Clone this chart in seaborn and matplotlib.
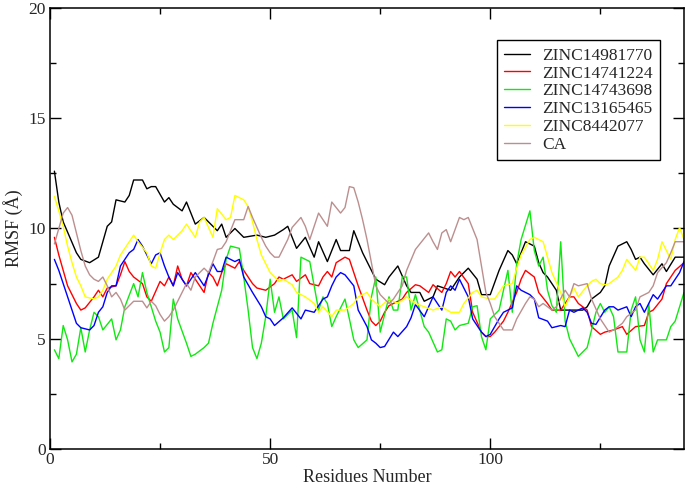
import matplotlib
matplotlib.use("Agg")
import matplotlib.pyplot as plt
import pandas as pd
import seaborn as sns
from matplotlib.ticker import MultipleLocator

# RMSF per residue
res_black = [1, 2, 3, 6, 7, 9, 11, 13, 14, 15, 17, 18, 19, 21, 22, 23, 24, 26, 27, 28, 30, 31, 33, 35, 36, 38,
             39, 40, 42, 44, 47, 49, 51, 53, 54, 56, 58, 60, 61, 63, 65, 66, 68, 69, 71, 74, 76, 77, 79, 81, 82,
             84, 85, 87, 88, 91, 93, 95, 97, 98, 100, 102, 104, 105, 106, 108, 110, 111, 112, 113, 115, 116, 121,
             122, 123, 125, 126, 127, 129, 131, 132, 133, 134, 135, 137, 139, 140, 142, 144]
rmsf_black = [12.6, 11.2, 10.3, 8.9, 8.6, 8.45, 8.7, 10.1, 10.3, 11.3, 11.2, 11.5, 12.2, 12.2, 11.8, 11.9, 11.9,
              11.2, 11.4, 11.1, 10.8, 11.2, 10.2, 10.5, 10.3, 9.9, 10.2, 9.6, 10.0, 9.6, 9.7, 9.6, 9.7, 9.95,
              10.1, 9.1, 9.6, 8.7, 9.4, 8.5, 9.5, 9.0, 9.0, 9.9, 8.9, 7.7, 7.45, 7.8, 8.3, 7.4, 7.1, 7.1, 6.7,
              6.9, 7.4, 7.2, 7.8, 8.2, 7.7, 7.0, 7.0, 8.1, 9.0, 8.8, 8.4, 9.4, 9.2, 8.45, 8.0, 7.8, 7.2, 6.3,
              6.3, 6.45, 6.8, 7.1, 7.4, 8.3, 9.2, 9.4, 9.05, 8.6, 8.7, 8.4, 7.9, 8.4, 8.05, 8.7, 8.7]

res_red = [1, 2, 3, 4, 6, 7, 8, 10, 11, 12, 13, 15, 16, 17, 18, 19, 21, 22, 23, 25, 26, 27, 28, 29, 30, 31, 32,
           34, 35, 36, 37, 38, 39, 40, 42, 43, 44, 46, 47, 49, 51, 52, 53, 55, 56, 58, 59, 61, 62, 63, 64, 65,
           67, 68, 70, 72, 73, 74, 75, 76, 77, 78, 80, 81, 83, 84, 86, 87, 89, 90, 91, 92, 93, 95, 96, 98, 99,
           100, 101, 102, 103, 104, 106, 107, 108, 110, 111, 113, 114, 116, 118, 119, 120, 122, 123, 125, 126,
           128, 130, 131, 133, 135, 136, 137, 139, 140, 142, 144]
rmsf_red = [9.6, 8.8, 8.1, 7.4, 6.6, 6.3, 6.4, 6.9, 7.2, 6.9, 7.3, 7.4, 7.9, 8.5, 8.05, 7.8, 7.5, 6.9, 6.7, 7.6,
            7.4, 7.8, 7.4, 8.3, 7.7, 7.4, 8.0, 7.4, 7.1, 8.0, 7.8, 7.4, 8.0, 8.4, 8.2, 8.5, 8.1, 7.5, 7.3, 7.2,
            7.5, 7.8, 7.7, 7.9, 7.6, 7.9, 7.5, 7.4, 7.8, 8.05, 7.8, 8.45, 8.7, 8.6, 7.4, 6.3, 5.8, 5.6, 5.8,
            6.2, 6.5, 6.6, 6.8, 7.1, 7.45, 7.4, 7.1, 7.45, 7.1, 7.5, 8.05, 7.8, 8.05, 7.5, 6.2, 5.3, 5.1, 5.1,
            5.3, 5.55, 5.8, 6.2, 7.1, 7.7, 8.1, 7.8, 7.1, 6.6, 6.3, 6.3, 6.9, 6.9, 6.6, 6.3, 5.55, 5.2, 5.3,
            5.4, 5.55, 5.2, 5.55, 5.6, 6.2, 6.3, 6.8, 7.5, 8.1, 8.45]

res_green = [1, 2, 3, 4, 5, 6, 7, 8, 9, 10, 11, 12, 14, 15, 16, 17, 19, 20, 21, 22, 23, 24, 25, 26, 27, 28, 29,
             31, 32, 33, 35, 36, 37, 38, 39, 40, 41, 43, 44, 45, 46, 47, 48, 49, 50, 51, 52, 53, 55, 56, 57, 59,
             60, 61, 62, 63, 64, 65, 67, 68, 69, 70, 72, 73, 74, 75, 77, 78, 79, 80, 81, 82, 83, 85, 86, 88, 89,
             90, 91, 92, 93, 95, 96, 97, 98, 99, 100, 102, 103, 104, 105, 106, 107, 109, 110, 111, 112, 113, 114,
             115, 116, 117, 118, 120, 122, 123, 124, 125, 126, 127, 128, 129, 131, 132, 133, 134, 135, 136, 137,
             138, 140, 141, 142, 144]
rmsf_green = [4.5, 4.1, 5.6, 4.95, 3.95, 4.3, 5.5, 4.4, 5.4, 6.2, 6.0, 5.4, 5.9, 4.95, 5.4, 6.45, 7.5, 6.9, 8.0,
              7.1, 6.45, 5.8, 5.3, 4.4, 4.6, 6.8, 5.9, 4.8, 4.2, 4.3, 4.6, 4.8, 5.7, 6.45, 7.2, 8.6, 9.2, 9.1,
              7.8, 6.3, 4.6, 4.1, 4.8, 6.0, 7.7, 6.2, 6.9, 5.9, 6.3, 5.05, 8.7, 8.5, 7.4, 6.3, 6.9, 6.6, 5.55,
              6.0, 6.8, 5.9, 4.95, 4.6, 4.95, 6.9, 7.8, 5.3, 6.9, 6.3, 6.3, 7.8, 7.8, 6.3, 7.0, 5.55, 5.3, 4.4,
              4.5, 5.9, 5.8, 5.4, 5.6, 5.7, 6.45, 6.5, 5.1, 4.5, 5.9, 6.3, 7.2, 8.1, 6.2, 8.4, 9.5, 10.8, 9.0,
              8.3, 8.7, 7.2, 6.5, 6.2, 9.4, 5.8, 5.0, 4.2, 4.6, 5.4, 6.2, 6.6, 6.2, 6.45, 6.0, 4.4, 4.4, 6.3,
              6.9, 4.95, 4.4, 6.6, 4.4, 4.95, 4.95, 5.55, 5.8, 7.1]

res_blue = [1, 2, 3, 4, 5, 6, 7, 9, 10, 11, 12, 13, 14, 15, 16, 18, 19, 20, 21, 22, 23, 24, 25, 26, 27, 28, 29,
            31, 32, 33, 35, 37, 38, 39, 40, 42, 43, 44, 46, 48, 49, 50, 51, 53, 55, 57, 58, 60, 62, 63, 64, 65,
            66, 67, 69, 70, 72, 73, 74, 75, 76, 78, 79, 81, 82, 83, 85, 86, 87, 89, 90, 91, 92, 93, 95, 96, 98,
            99, 100, 101, 102, 103, 105, 106, 107, 109, 110, 111, 113, 114, 116, 117, 118, 119, 121, 122, 123,
            124, 126, 127, 128, 129, 131, 132, 133, 134, 135, 137, 138, 140, 141, 143, 144]
rmsf_blue = [8.6, 8.1, 7.5, 6.9, 6.3, 5.7, 5.5, 5.4, 5.6, 6.2, 6.45, 7.1, 7.4, 7.4, 8.3, 8.9, 9.05, 9.5, 9.2, 8.8,
             8.4, 8.8, 8.9, 8.3, 7.8, 7.4, 8.0, 7.4, 7.7, 8.0, 7.4, 8.4, 8.05, 8.05, 8.7, 8.5, 8.6, 7.8, 7.1,
             6.45, 6.0, 5.9, 5.6, 5.95, 6.4, 5.9, 6.3, 6.2, 6.8, 6.9, 7.4, 7.8, 8.0, 7.9, 7.4, 6.3, 5.55, 4.95,
             4.8, 4.6, 4.65, 5.3, 5.1, 5.55, 5.95, 6.55, 6.0, 6.45, 6.9, 6.3, 7.1, 7.4, 7.2, 7.7, 6.9, 5.9, 5.3,
             5.1, 5.2, 5.55, 5.9, 6.2, 6.4, 7.4, 7.2, 7.0, 6.8, 5.95, 5.8, 5.5, 5.6, 5.55, 6.3, 6.2, 6.4, 6.2,
             5.7, 5.65, 6.3, 6.45, 6.45, 6.3, 6.45, 6.0, 6.45, 6.6, 6.2, 7.0, 6.8, 7.4, 7.4, 8.0, 8.5]

res_yellow = [1, 2, 3, 4, 5, 6, 7, 8, 10, 11, 12, 13, 14, 15, 16, 18, 19, 20, 22, 23, 24, 25, 26, 27, 28, 30, 31,
              33, 34, 35, 37, 38, 40, 41, 42, 44, 45, 46, 47, 48, 50, 52, 53, 55, 56, 58, 60, 61, 62, 64, 65, 67,
              69, 70, 72, 73, 75, 77, 79, 81, 83, 85, 87, 89, 91, 93, 94, 96, 97, 98, 100, 101, 102, 103, 105,
              106, 107, 109, 110, 112, 113, 114, 116, 117, 118, 119, 120, 122, 123, 124, 125, 126, 127, 129, 130,
              131, 133, 134, 135, 137, 138, 139, 141, 142, 143, 144]
rmsf_yellow = [11.45, 10.8, 10.1, 9.2, 8.45, 7.8, 7.4, 6.9, 6.8, 6.9, 7.2, 7.7, 8.0, 8.3, 8.8, 9.4, 9.7, 9.4, 8.9,
               8.3, 8.2, 8.9, 9.5, 9.7, 9.5, 9.9, 10.2, 9.6, 10.3, 10.5, 9.6, 10.9, 10.4, 10.5, 11.5, 11.3, 11.0,
               10.3, 9.5, 8.8, 8.0, 7.6, 7.7, 7.45, 7.1, 6.9, 6.6, 6.2, 6.45, 6.0, 6.3, 6.3, 6.6, 6.9, 7.1, 6.8,
               6.45, 6.8, 6.6, 6.9, 6.6, 6.45, 6.3, 6.45, 6.2, 6.2, 6.6, 7.1, 7.2, 6.9, 6.8, 6.8, 7.1, 7.4, 7.5,
               8.2, 8.8, 9.5, 9.6, 9.4, 8.7, 8.0, 7.1, 6.45, 6.9, 7.3, 6.9, 7.4, 7.6, 7.7, 7.5, 7.45, 7.5, 7.8,
               8.1, 8.6, 8.1, 8.7, 8.7, 8.1, 8.6, 9.4, 8.6, 9.5, 10.05, 9.5]

res_ca = [1, 2, 3, 4, 5, 6, 7, 8, 9, 10, 11, 12, 13, 14, 15, 16, 17, 19, 21, 22, 23, 24, 25, 26, 27, 28, 30, 31,
          32, 33, 35, 36, 37, 38, 39, 40, 42, 44, 45, 46, 48, 49, 50, 51, 52, 54, 55, 57, 58, 59, 61, 63, 64, 66,
          67, 68, 69, 70, 71, 72, 73, 74, 75, 77, 78, 80, 81, 83, 86, 87, 88, 89, 90, 91, 93, 94, 95, 97, 98, 99,
          100, 101, 102, 103, 105, 106, 108, 109, 110, 111, 112, 114, 115, 117, 118, 119, 120, 122, 123, 125,
          127, 128, 130, 131, 133, 134, 136, 137, 138, 140, 141, 142, 144]
rmsf_ca = [9.3, 10.0, 10.7, 10.95, 10.6, 9.8, 9.0, 8.3, 7.9, 7.7, 7.6, 7.8, 7.4, 6.9, 7.1, 6.8, 6.3, 6.7, 6.7,
           6.4, 6.7, 6.5, 6.1, 5.8, 6.0, 6.3, 7.1, 7.5, 7.2, 7.8, 8.2, 8.0, 8.5, 9.05, 9.1, 9.4, 10.4, 10.4,
           11.0, 10.5, 9.6, 9.2, 8.9, 8.7, 8.7, 9.5, 10.05, 10.5, 10.1, 9.5, 10.7, 10.1, 11.2, 10.7, 10.95,
           11.9, 11.85, 11.2, 10.4, 9.5, 8.45, 7.4, 7.0, 6.6, 6.8, 7.4, 8.1, 9.05, 9.8, 9.4, 9.05, 9.8, 9.95,
           9.4, 10.5, 10.4, 10.5, 9.5, 8.3, 7.1, 6.6, 6.0, 5.7, 5.4, 5.4, 5.9, 6.6, 6.9, 6.8, 6.45, 6.6, 6.3,
           6.45, 7.2, 6.9, 7.5, 7.4, 7.5, 6.8, 5.9, 5.3, 5.4, 5.7, 6.0, 6.3, 6.9, 7.1, 7.4, 8.0, 8.45, 8.9, 9.4,
           9.4]

labels = ["ZINC14981770", "ZINC14741224", "ZINC14743698", "ZINC13165465", "ZINC8442077", "CA"]
series = [(res_black, rmsf_black), (res_red, rmsf_red), (res_green, rmsf_green),
          (res_blue, rmsf_blue), (res_yellow, rmsf_yellow), (res_ca, rmsf_ca)]
colors = ["#000000", "#ff0000", "#11e811", "#0000ff", "#ffff00", "#bc8f8f"]

sns.set_style("ticks")
plt.rcParams["font.family"] = ["Liberation Serif", "DejaVu Serif"]

fig = plt.figure(figsize=(6.85, 4.87), dpi=100)
ax = fig.add_axes([50 / 685, 1 - 449 / 487, 634 / 685, 441 / 487])

for lab, (xs, ys), col in zip(labels, series, colors):
    df = pd.DataFrame({"res": xs, "rmsf": ys})
    sns.lineplot(data=df, x="res", y="rmsf", ax=ax, color=col, linewidth=1.0, label=lab)

ax.set_xlim(0, 144)
ax.set_ylim(0, 20)
ax.xaxis.set_major_locator(MultipleLocator(50))
ax.xaxis.set_minor_locator(MultipleLocator(25))
ax.yaxis.set_major_locator(MultipleLocator(5))
ax.yaxis.set_minor_locator(MultipleLocator(2.5))
ax.tick_params(which="both", direction="in", top=True, right=True, labelsize=12.5, width=1.0, color="black")
ax.tick_params(which="major", length=8)
ax.tick_params(which="minor", length=4)
ax.tick_params(axis="x", pad=2)
ax.tick_params(axis="y", pad=3)
for sp in ax.spines.values():
    sp.set_linewidth(1.1)
    sp.set_color("black")

ax.set_xlabel("Residues Number", fontsize=13, labelpad=1)
ax.set_ylabel("RMSF (Å)", fontsize=13, labelpad=4)

leg = ax.legend(loc="upper right", bbox_to_anchor=(0.962, 0.927), borderaxespad=0, fontsize=12.5,
                frameon=True, fancybox=False, framealpha=1, edgecolor="black", handlelength=1.5,
                handletextpad=0.7, labelspacing=0.1, borderpad=0.42)
leg.get_frame().set_linewidth(1.0)

fig.savefig("out.png", dpi=100)
